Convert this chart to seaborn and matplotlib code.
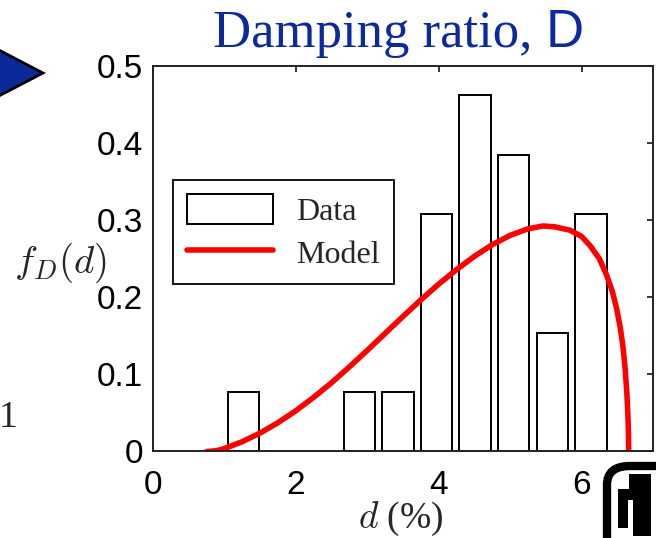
import matplotlib
matplotlib.use("Agg")
import matplotlib.pyplot as plt
import seaborn as sns
from matplotlib.patches import Polygon, FancyBboxPatch, Rectangle

# histogram of measured damping ratios (bin centres in %, density)
bin_centers = [1.274, 1.81, 2.35, 2.89, 3.43, 3.97, 4.51, 5.05, 5.59, 6.13]
bin_density = [0.077, 0.0, 0.0, 0.077, 0.077, 0.308, 0.462, 0.385, 0.154, 0.308]

# model pdf
model_d = [0.755, 0.85, 0.9, 0.95, 1.0, 1.25, 1.5, 1.75, 2.0, 2.25, 2.5, 2.75,
           3.0, 3.25, 3.5, 3.75, 4.0, 4.25, 4.5, 4.75, 5.0, 5.25, 5.46, 5.62,
           5.84, 6.0, 6.12, 6.25, 6.35, 6.43, 6.49, 6.54, 6.58, 6.61, 6.635, 6.65,
           6.657, 6.66]
model_f = [0.0, 0.0006, 0.0013, 0.0023, 0.0037, 0.0126, 0.0238, 0.0372, 0.0527, 0.0701, 0.089, 0.1096,
           0.131, 0.153, 0.175, 0.1965, 0.217, 0.2358, 0.2531, 0.2682, 0.2803, 0.2888, 0.2925, 0.2915,
           0.287, 0.279, 0.267, 0.25, 0.229, 0.208, 0.186, 0.162, 0.136, 0.108, 0.075, 0.045,
           0.022, 0.0]

x_ticks = [0, 2, 4, 6]
y_ticks = [0, 0.1, 0.2, 0.3, 0.4, 0.5]

sns.set_style("white")
plt.rcParams["font.family"] = ["Liberation Sans", "DejaVu Sans"]

fig = plt.figure(figsize=(6.56, 5.38), dpi=100)
ax = fig.add_axes([0.2328, 0.1608, 0.7626, 0.7165])

sns.barplot(x=bin_centers, y=bin_density, native_scale=True, width=0.82,
            color="white", saturation=1, edgecolor="black", linewidth=1.4,
            errorbar=None, ax=ax)
sns.lineplot(x=model_d, y=model_f, color="red", linewidth=4, sort=False, ax=ax)
ax.get_lines()[0].set_solid_joinstyle("round")

ax.set_xlim(0, 7)
ax.set_ylim(0, 0.5)
ax.set_xticks(x_ticks)
ax.set_yticks(y_ticks)
ax.set_xticklabels([str(t) for t in x_ticks])
ax.set_yticklabels(["0", "0.1", "0.2", "0.3", "0.4", "0.5"])
ax.tick_params(direction="in", top=True, right=True, length=4, width=1.1,
               labelsize=24, pad=7, colors="black")
ax.tick_params(axis="x", pad=13)
for s in ax.spines.values():
    s.set_color("#222222")
    s.set_linewidth(1.4)

ax.set_ylabel(r"$f_D(d)$", fontsize=28, rotation=0, math_fontfamily="cm")
ax.yaxis.set_label_coords(-0.185, 0.49)
ax.yaxis.label.set_va("center")
ax.set_xlabel(r"$d$ (%)", fontsize=27, family="Liberation Serif", math_fontfamily="cm")
ax.xaxis.set_label_coords(0.496, -0.175)
ax.xaxis.label.set_va("center")

bars = ax.containers[0]
line = ax.get_lines()[0]
leg = ax.legend([bars, line], ["Data", "Model"], loc="upper left",
                bbox_to_anchor=(0.04, 0.704), borderaxespad=0,
                prop={"family": "Liberation Serif", "size": 23},
                frameon=True, fancybox=False, edgecolor="black", framealpha=1,
                handlelength=2.7, handleheight=1.05, handletextpad=0.7,
                borderpad=0.45, labelspacing=0.3)
leg.get_frame().set_linewidth(1.3)

W, H = 656, 538
def fp(x, y):
    return (x / W, 1 - y / H)

# slide title: serif text with a sans "D"
title_color = "#0b2a9e"
t1 = fig.text(*fp(213, 47), "Damping ratio, ", color=title_color, fontsize=38,
              family="Liberation Serif", ha="left", va="baseline")
r = fig.canvas.get_renderer()
x_end = t1.get_window_extent(renderer=r).x1 / W
fig.text(x_end, 1 - 47 / H, "D", color=title_color, fontsize=38,
         family="Liberation Sans", ha="left", va="baseline")

# slide leftovers: bullet arrow, stray "1", logo
fig.patches.append(Polygon([fp(-5, 48), fp(43, 73), fp(-5, 98)], closed=True,
                           facecolor="#0a2a9a", edgecolor="black", linewidth=2,
                           transform=fig.transFigure, figure=fig))
fig.text(-1 / W, 1 - 427 / H, "1", fontsize=27, family="Liberation Serif",
         ha="left", va="baseline")
fig.patches.append(FancyBboxPatch(fp(607, 570), 80 / W, 104 / H,
                                  boxstyle="round,pad=0,rounding_size=0.035",
                                  facecolor="white", edgecolor="black", linewidth=6,
                                  transform=fig.transFigure, figure=fig))
for (x0, y0, w, h) in [(618, 528, 10, 39), (618, 500, 33, 11), (629, 491, 22, 17),
                       (633, 536, 18, 36)]:
    fig.patches.append(Rectangle(fp(x0, y0), w / W, h / H, facecolor="black",
                                 edgecolor="none", transform=fig.transFigure, figure=fig))

fig.savefig("out.png", dpi=100)
